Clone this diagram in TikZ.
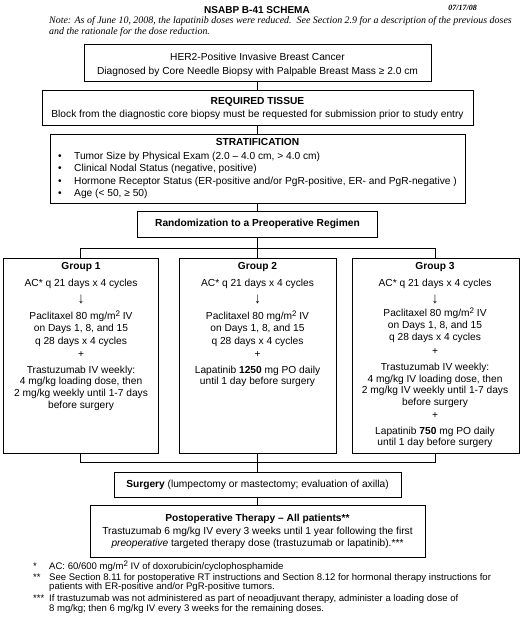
\documentclass[tikz,border=0pt]{standalone}
\usepackage{fontspec}
\setmainfont{Liberation Sans}
\newfontfamily\notefont{Liberation Serif}
\newcommand{\sqtwo}{\raisebox{3pt}{\fontsize{8}{8}\selectfont 2}}
\newcommand{\bigdown}{\scalebox{1.25}[1.5]{↓}}
\begin{document}
\begin{tikzpicture}[x=1pt,y=-1pt,
  box/.style={draw, line width=0.8pt, inner sep=0pt},
  conn/.style={draw, line width=0.7pt},
  ln/.style={inner sep=0pt, text height=7pt, text depth=2pt, font=\fontsize{10.2}{12}\selectfont},
  lnw/.style={ln, anchor=west},
  fn/.style={inner sep=0pt, text height=6.5pt, text depth=2pt, anchor=west, font=\fontsize{9.55}{11}\selectfont},
  note/.style={inner sep=0pt, text height=6.5pt, text depth=2pt, anchor=west, font=\notefont\itshape\fontsize{9.95}{11}\selectfont}]
\useasboundingbox (0,0) rectangle (522,620);
% header
\node[inner sep=0pt, font=\bfseries\fontsize{10}{12}\selectfont] (title) at (257,10) {NSABP B-41 SCHEMA};
\node[inner sep=0pt, anchor=east, font=\notefont\bfseries\itshape\fontsize{8}{9}\selectfont] (date) at (477,8) {07/17/08};
\node[note] (note1) at (49,21) {Note: As of June 10, 2008, the lapatinib doses were reduced.\ \ See Section 2.9 for a description of the previous doses};
\node[note] (note2) at (49,32) {and the rationale for the dose reduction.};
% boxes
\node[box, minimum width=347pt, minimum height=37pt] (her2) at (257.5,62.5) {};
\node[box, minimum width=431pt, minimum height=35pt] (tissue) at (257.5,107.5) {};
\node[box, minimum width=415pt, minimum height=69pt] (strat) at (257.5,168.5) {};
\node[box, minimum width=240pt, minimum height=26pt] (rand) at (257.5,224) {};
\node[box, minimum width=155pt, minimum height=195pt] (g1) at (80.5,355.5) {};
\node[box, minimum width=157pt, minimum height=195pt] (g2) at (257.5,355.5) {};
\node[box, minimum width=167pt, minimum height=195pt] (g3) at (435.5,355.5) {};
\node[box, minimum width=287pt, minimum height=25pt] (surg) at (257.5,484.5) {};
\node[box, minimum width=335pt, minimum height=52pt] (post) at (257.5,531) {};
% connectors
\coordinate (split) at (257.5,248);
\coordinate (join) at (257.5,462);
\draw[conn] (her2.south) -- (tissue.north);
\draw[conn] (tissue.south) -- (strat.north);
\draw[conn] (strat.south) -- (rand.north);
\draw[conn] (rand.south) -- (split);
\draw[conn] (g1.north) -- (g1.north |- split) -- (g3.north |- split) -- (g3.north);
\draw[conn] (split) -- (g2.north);
\draw[conn] (g1.south) -- (g1.south |- join) -- (g3.south |- join) -- (g3.south);
\draw[conn] (g2.south) -- (surg.north);
\draw[conn] (surg.south) -- (post.north);
% box texts
\node[ln] (her2a) at (257.5,58) {HER2-Positive Invasive Breast Cancer};
\node[ln] (her2b) at (257.5,72) {Diagnosed by Core Needle Biopsy with Palpable Breast Mass ≥ 2.0 cm};
\node[ln] (tisa) at (257.5,102) {\textbf{REQUIRED TISSUE}};
\node[ln] (tisb) at (257.5,115) {Block from the diagnostic core biopsy must be requested for submission prior to study entry};
\node[ln] (stra) at (257.5,143) {\textbf{STRATIFICATION}};
\foreach[count=\i] \y/\t in {157/{Tumor Size by Physical Exam (2.0 – 4.0 cm, > 4.0 cm)},
  169/{Clinical Nodal Status (negative, positive)},
  182/{Hormone Receptor Status (ER-positive and/or PgR-positive, ER- and PgR-negative )},
  194/{Age (< 50, ≥ 50)}}{
  \node[ln] (bul\i) at (60,\y) {•};
  \node[lnw] (str\i) at (74,\y) {\t};
}
\node[ln] (randt) at (257.5,224) {\textbf{Randomization to a Preoperative Regimen}};
\foreach[count=\i] \y/\t in {267/{\textbf{Group 1}}, 284/{AC* q 21 days x 4 cycles}, 301/{\bigdown},
  317/{Paclitaxel 80 mg/m\sqtwo{} IV}, 329/{on Days 1, 8, and 15}, 342/{q 28 days x 4 cycles},
  355/{+}, 371/{Trastuzumab IV weekly:}, 382/{4 mg/kg loading dose, then},
  394/{2 mg/kg weekly until 1-7 days}, 406/{before surgery}}{
  \node[ln] (ga\i) at (81,\y) {\t};
}
\foreach[count=\i] \y/\t in {267/{\textbf{Group 2}}, 284/{AC* q 21 days x 4 cycles}, 301/{\bigdown},
  317/{Paclitaxel 80 mg/m\sqtwo{} IV}, 329/{on Days 1, 8, and 15}, 342/{q 28 days x 4 cycles},
  355/{+}, 371/{Lapatinib \textbf{1250} mg PO daily}, 382/{until 1 day before surgery}}{
  \node[ln] (gb\i) at (257.5,\y) {\t};
}
\foreach[count=\i] \y/\t in {267/{\textbf{Group 3}}, 284/{AC* q 21 days x 4 cycles}, 301/{\bigdown},
  314/{Paclitaxel 80 mg/m\sqtwo{} IV}, 326/{on Days 1, 8, and 15}, 338/{q 28 days x 4 cycles},
  352/{+}, 368/{Trastuzumab IV weekly:}, 380/{4 mg/kg IV loading dose, then},
  391/{2 mg/kg IV weekly until 1-7 days}, 403/{before surgery}, 416/{+},
  432/{Lapatinib \textbf{750} mg PO daily}, 443/{until 1 day before surgery}}{
  \node[ln] (gc\i) at (435,\y) {\t};
}
\node[ln] (surgt) at (257.5,484.5) {\textbf{Surgery} (lumpectomy or mastectomy; evaluation of axilla)};
\node[ln] (posta) at (257.5,519) {\textbf{Postoperative Therapy – All patients**}};
\node[ln] (postb) at (257.5,532) {Trastuzumab 6 mg/kg IV every 3 weeks until 1 year following the first};
\node[ln] (postc) at (257.5,544) {\textit{preoperative} targeted therapy dose (trastuzumab or lapatinib).***};
% footnotes
\node[fn] (fm1) at (33,567) {*};
\node[fn] (fm2) at (33,578) {**};
\node[fn] (fm3) at (33,599) {***};
\node[fn] (ft1) at (49,567) {AC: 60/600 mg/m\sqtwo{} IV of doxorubicin/cyclophosphamide};
\node[fn] (ft2) at (49,578) {See Section 8.11 for postoperative RT instructions and Section 8.12 for hormonal therapy instructions for};
\node[fn] (ft3) at (49,587) {patients with ER-positive and/or PgR-positive tumors.};
\node[fn] (ft4) at (49,599) {If trastuzumab was not administered as part of neoadjuvant therapy, administer a loading dose of};
\node[fn] (ft5) at (49,609) {8 mg/kg; then 6 mg/kg IV every 3 weeks for the remaining doses.};
\end{tikzpicture}
\end{document}
